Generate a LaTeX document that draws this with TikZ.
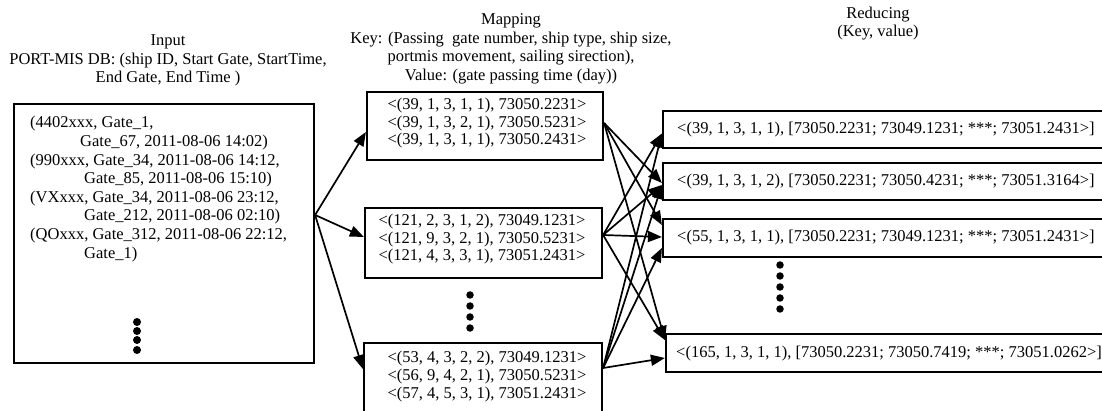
\documentclass[tikz,border=0pt]{standalone}
\usepackage{fontspec}
\setmainfont{Liberation Serif}
\usetikzlibrary{arrows.meta}
\tikzset{
  box/.style={draw, line width=2.2pt, inner sep=0pt, rectangle},
  txt/.style={inner sep=0pt, font=\fontsize{16.5}{18}\selectfont, anchor=base},
  ltxt/.style={txt, anchor=base west},
  conn/.style={line width=1.7pt, -{Triangle[length=14pt,width=11pt]}, shorten >=0pt},
  dot/.style={fill=black, circle, inner sep=0pt, minimum size=8pt},
  sdot/.style={fill=black, circle, inner sep=0pt, minimum size=7.5pt}
}
\begin{document}
\begin{tikzpicture}[x=1pt,y=-1pt]
\useasboundingbox (0,0) rectangle (1102,411);
% titles
\node[txt] (ti1) at (168,46) {Input};
\node[txt] (ti2) at (168,65) {PORT-MIS DB: (ship ID, Start Gate, StartTime,};
\node[txt] (ti3) at (168,83) {End Gate, End Time )};
\node[txt] (tm1) at (511,25) {Mapping};
\node[txt] (tm2) at (511,44) {Key: (Passing\ \ gate number, ship type, ship size,};
\node[txt] (tm3) at (511,62) {portmis movement, sailing sirection),};
\node[txt] (tm4) at (511,81) {Value: (gate passing time (day))};
\node[txt] (tr1) at (878,19) {Reducing};
\node[txt] (tr2) at (878,37) {(Key, value)};
% boxes
\node[box, minimum width=300pt, minimum height=259pt] (in) at (164,233.5) {};
\node[box, minimum width=236pt, minimum height=68pt] (m1) at (485,126) {};
\node[box, minimum width=237pt, minimum height=70pt] (m2) at (483.5,243) {};
\node[box, minimum width=238pt, minimum height=71pt] (m3) at (483,378.5) {};
\node[box, minimum width=443pt, minimum height=37pt] (r1) at (884.5,129.5) {};
\node[box, minimum width=443pt, minimum height=37pt] (r2) at (884.5,181.5) {};
\node[box, minimum width=443pt, minimum height=38pt] (r3) at (884.5,238) {};
\node[box, minimum width=440pt, minimum height=38pt] (r4) at (886,353) {};
% input text
\node[ltxt] (i1) at (30,128) {(4402xxx, Gate\_1,};
\node[ltxt] (i2) at (80,147) {Gate\_67, 2011-08-06 14:02)};
\node[ltxt] (i3) at (30,166) {(990xxx, Gate\_34, 2011-08-06 14:12,};
\node[ltxt] (i4) at (84,184) {Gate\_85, 2011-08-06 15:10)};
\node[ltxt] (i5) at (30,203) {(VXxxx, Gate\_34, 2011-08-06 23:12,};
\node[ltxt] (i6) at (84,221) {Gate\_212, 2011-08-06 02:10)};
\node[ltxt] (i7) at (30,240) {(QOxxx, Gate\_312, 2011-08-06 22:12,};
\node[ltxt] (i8) at (84,259) {Gate\_1)};
% mapping text
\node[txt] (a1) at (487,110) {<(39, 1, 3, 1, 1), 73050.2231>};
\node[txt] (a2) at (487,127.5) {<(39, 1, 3, 2, 1), 73050.5231>};
\node[txt] (a3) at (487,145) {<(39, 1, 3, 1, 1), 73050.2431>};
\node[txt] (b1) at (482,226) {<(121, 2, 3, 1, 2), 73049.1231>};
\node[txt] (b2) at (482,243.5) {<(121, 9, 3, 2, 1), 73050.5231>};
\node[txt] (b3) at (482,261) {<(121, 4, 3, 3, 1), 73051.2431>};
\node[txt] (c1) at (487,362) {<(53, 4, 3, 2, 2), 73049.1231>};
\node[txt] (c2) at (487,380) {<(56, 9, 4, 2, 1), 73050.5231>};
\node[txt] (c3) at (487,398) {<(57, 4, 5, 3, 1), 73051.2431>};
% reducing text
\node[ltxt] (s1) at (677,134) {<(39, 1, 3, 1, 1), [73050.2231; 73049.1231; ***; 73051.2431>]};
\node[ltxt] (s2) at (677,186) {<(39, 1, 3, 1, 2), [73050.2231; 73050.4231; ***; 73051.3164>]};
\node[ltxt] (s3) at (677,242) {<(55, 1, 3, 1, 1), [73050.2231; 73049.1231; ***; 73051.2431>]};
\node[ltxt] (s4) at (676,357) {<(165, 1, 3, 1, 1), [73050.2231; 73050.7419; ***; 73051.0262>]};
% dots
\foreach \y [count=\k] in {322,331,340,350} \node[dot] (di\k) at (137,\y) {};
\foreach \y [count=\k] in {295,306,317,328} \node[sdot] (dm\k) at (470,\y) {};
\foreach \y [count=\k] in {265,276,287,298,309} \node[sdot] (dr\k) at (780,\y) {};
% input -> mapping
\coordinate (io) at ([yshift=18.5pt]in.east);
\draw[conn] (io) -- ([yshift=-6pt]m1.west);
\draw[conn] (io) -- ([yshift=6pt]m2.west);
\draw[conn] (io) -- ([yshift=9.5pt]m3.west);
% mapping -> reducing
\coordinate (o1) at ([yshift=3pt]m1.east);
\coordinate (o2) at ([yshift=8pt]m2.east);
\coordinate (o3) at ([yshift=10.5pt]m3.east);
\draw[conn] (o1) -- ([yshift=-1.5pt]r2.west);
\draw[conn] (o1) -- ([yshift=13pt]r3.west);
\draw[conn] (o1) -- ([yshift=13pt]r4.west);
\draw[conn] (o2) -- ([yshift=-4pt]r1.west);
\draw[conn] (o2) -- ([yshift=-3.5pt]r2.west);
\draw[conn] (o2) -- ([yshift=1pt]r3.west);
\draw[conn] (o2) -- ([yshift=13pt]r4.west);
\draw[conn] (o3) -- ([yshift=-4pt]r1.west);
\draw[conn] (o3) -- ([yshift=-3.5pt]r2.west);
\draw[conn] (o3) -- ([yshift=-10pt]r3.west);
\draw[conn] (o3) -- ([yshift=-5pt]r4.west);
\end{tikzpicture}
\end{document}
